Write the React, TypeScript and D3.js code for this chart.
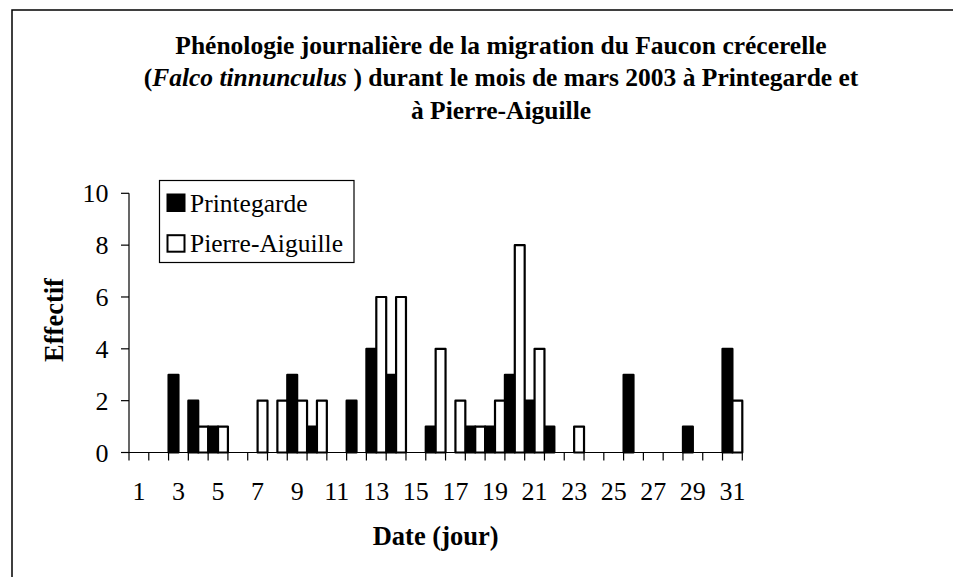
import React from "react";
import * as d3 from "d3";

const days = [1,2,3,4,5,6,7,8,9,10,11,12,13,14,15,16,17,18,19,20,21,22,23,24,25,26,27,28,29,30,31];
const printegarde = [0,0,3,2,1,0,0,0,3,1,0,2,4,3,0,1,0,1,1,3,2,1,0,0,0,3,0,0,1,0,4];
const pierreAiguille = [0,0,0,1,1,0,2,2,2,2,0,0,6,6,0,4,2,1,2,8,4,0,1,0,0,0,0,0,0,0,2];
const seriesNames = ["Printegarde", "Pierre-Aiguille"];
const xTickLabels = [1,3,5,7,9,11,13,15,17,19,21,23,25,27,29,31];
const yTicks = [0,2,4,6,8,10];

const FONT = "'Liberation Serif', 'Times New Roman', serif";

export default function App() {
  const W = 953, H = 577;
  const x0 = 129, x1 = 742.3, yTop = 193.3, yBot = 452.5;
  const x = d3.scaleBand<number>().domain(days).range([x0, x1]).padding(0);
  const xs = d3.scaleBand<string>().domain(seriesNames).range([0, x.bandwidth()]).padding(0);
  const y = d3.scaleLinear().domain([0, 10]).range([yBot, yTop]);
  const series = [
    { name: seriesNames[0], values: printegarde, fill: "#000" },
    { name: seriesNames[1], values: pierreAiguille, fill: "#fff" },
  ];
  const cx = 501;
  return (
    <svg width={W} height={H} style={{ position: "absolute", left: 0, top: 0, background: "#fff" }} fontFamily={FONT}>
      <rect x={0} y={0} width={W} height={H} fill="#fff" />
      <rect x={12} y={10} width={1100} height={700} fill="none" stroke="#000" strokeWidth={1.5} />
      <g fontWeight="bold" fontSize={25.5} textAnchor="middle">
        <text x={cx} y={53.5}>Phénologie journalière de la migration du Faucon crécerelle</text>
        <text x={cx} y={86}>(<tspan fontStyle="italic">Falco tinnunculus</tspan> ) durant le mois de mars 2003 à Printegarde et</text>
        <text x={cx} y={118.5}>à Pierre-Aiguille</text>
      </g>
      {/* bars */}
      {series.map((s) => (
        <g key={s.name}>
          {days.map((d, i) =>
            s.values[i] > 0 ? (
              <rect key={d}
                x={(x(d) as number) + (xs(s.name) as number)}
                y={y(s.values[i])}
                width={xs.bandwidth()}
                height={yBot - y(s.values[i])}
                fill={s.fill} stroke="#000" strokeWidth={2.2} strokeLinejoin="round" />
            ) : null
          )}
        </g>
      ))}
      {/* y axis */}
      <line x1={x0} x2={x0} y1={yTop} y2={yBot} stroke="#000" strokeWidth={1.2} />
      {yTicks.map((t) => (
        <g key={t}>
          <line x1={x0 - 8} x2={x0} y1={y(t)} y2={y(t)} stroke="#000" strokeWidth={1.2} />
          <text x={108.5} y={y(t)} dy="0.35em" textAnchor="end" fontSize={26}>{t}</text>
        </g>
      ))}
      {/* x axis */}
      <line x1={x0 - 8} x2={x1} y1={yBot} y2={yBot} stroke="#000" strokeWidth={1.2} />
      {days.map((d) => (
        <line key={d} x1={x(d) as number} x2={x(d) as number} y1={yBot} y2={yBot + 8} stroke="#000" strokeWidth={1.2} />
      ))}
      <line x1={x1} x2={x1} y1={yBot} y2={yBot + 8} stroke="#000" strokeWidth={1.2} />
      {xTickLabels.map((d) => (
        <text key={d} x={(x(d) as number) + x.bandwidth() / 2} y={500} textAnchor="middle" fontSize={26}>{d}</text>
      ))}
      <text x={(x0 + x1) / 2} y={545} textAnchor="middle" fontWeight="bold" fontSize={26.5}>Date (jour)</text>
      <text transform="translate(54,320) rotate(-90)" textAnchor="middle" dy="0.35em" fontWeight="bold" fontSize={26.5}>Effectif</text>
      {/* legend */}
      <rect x={159.5} y={180.5} width={194.5} height={82} fill="#fff" stroke="#000" strokeWidth={1.2} />
      {series.map((s, i) => (
        <g key={s.name}>
          <rect x={167.5} y={194.5 + i * 40.7} width={17} height={16.5} fill={s.fill} stroke="#000" strokeWidth={2} />
          <text x={190} y={211.5 + i * 40.7} fontSize={25.5}>{s.name}</text>
        </g>
      ))}
    </svg>
  );
}
